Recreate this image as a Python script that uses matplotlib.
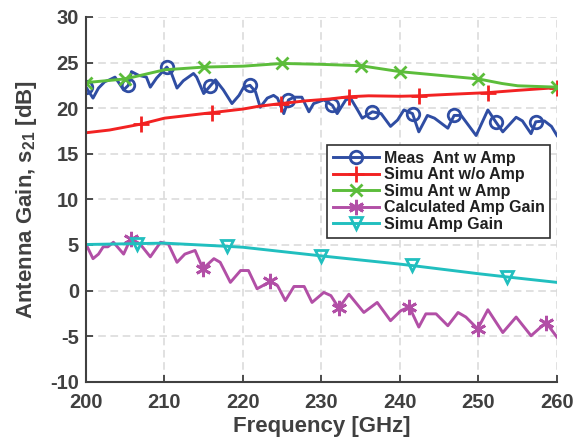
"""Antenna gain with / without amplifier vs frequency (MATLAB-style figure)."""

import matplotlib
matplotlib.use("Agg")
import matplotlib.pyplot as plt
import numpy as np

plt.rcParams["font.family"] = ["Liberation Sans", "DejaVu Sans"]
plt.rcParams["font.weight"] = "bold"
plt.rcParams["mathtext.fontset"] = "custom"
plt.rcParams["mathtext.rm"] = "Liberation Sans:bold"
plt.rcParams["mathtext.default"] = "rm"
plt.rcParams["axes.unicode_minus"] = False  # plain hyphen like MATLAB

TXT = "#404040"

meas_f = [200.0, 200.9, 201.6, 202.4, 203.0, 203.7, 204.8, 205.4, 205.8, 206.7,
          207.7, 208.2, 209.0, 210.3, 210.9, 211.6, 212.4, 213.7, 214.1, 215.0,
          215.8, 216.5, 217.5, 218.6, 219.5, 220.1, 220.9, 221.6, 222.2, 223.1,
          223.9, 224.4, 225.2, 225.8, 226.5, 227.5, 228.4, 229.0, 230.3, 231.4,
          232.0, 233.1, 233.7, 234.6, 235.2, 236.5, 237.6, 238.8, 239.7, 240.5,
          241.6, 242.4, 243.5, 244.4, 246.1, 246.9, 247.8, 249.7, 251.2, 252.2,
          253.1, 254.8, 255.6, 256.7, 257.3, 258.4, 259.3, 260.0]
meas_v = [22.3, 21.1, 22.2, 22.9, 23.1, 23.4, 22.0, 22.5, 24.0, 23.6,
          23.4, 22.3, 23.3, 24.5, 23.8, 22.2, 23.0, 23.8, 23.4, 21.6,
          22.4, 23.1, 22.0, 20.5, 21.4, 22.3, 22.5, 21.8, 20.1, 21.1,
          21.4, 21.1, 19.4, 20.9, 21.2, 21.2, 19.6, 20.5, 20.9, 20.3,
          19.4, 20.9, 21.1, 19.8, 18.9, 19.6, 19.4, 18.0, 18.7, 19.8,
          19.4, 17.4, 19.2, 18.9, 17.8, 19.2, 19.2, 17.0, 19.8, 18.5,
          17.4, 19.0, 18.6, 17.2, 18.5, 18.6, 18.0, 17.0]
meas_mk = [200.0, 205.4, 210.3, 215.8, 220.9, 225.8, 231.4, 236.5, 241.6,
           246.9, 252.2, 257.3]

# --- simulated antenna without amplifier ---
wo_f = [200.0, 203.0, 207.0, 210.0, 213.0, 216.0, 220.0, 222.0, 224.8, 228.0,
        231.0, 233.5, 236.0, 240.0, 242.4, 246.0, 251.2, 255.0, 260.0]
wo_v = [17.3, 17.6, 18.25, 18.9, 19.2, 19.5, 19.9, 20.2, 20.5, 20.8,
        21.0, 21.25, 21.35, 21.3, 21.35, 21.5, 21.7, 21.95, 22.25]
wo_mk = [207.0, 216.0, 224.8, 233.5, 242.4, 251.2, 260.0]

# --- simulated antenna with amplifier ---
w_f = [200.0, 205.0, 207.5, 210.0, 215.0, 220.0, 225.0, 230.0, 235.0, 240.0,
       245.0, 250.0, 253.0, 255.0, 260.0]
w_v = [22.8, 23.2, 23.7, 24.2, 24.5, 24.6, 24.9, 24.8, 24.65, 24.0,
       23.6, 23.2, 22.7, 22.45, 22.3]
w_mk = [200.0, 205.0, 215.0, 225.0, 235.0, 240.0, 250.0, 260.0]

# --- calculated amplifier gain ---
calc_f = [200.0, 200.9, 201.6, 202.2, 202.8, 203.5, 204.8, 205.7, 206.9, 208.2,
          209.5, 210.5, 211.6, 212.6, 213.9, 214.9, 216.3, 217.1, 218.4, 219.7,
          220.7, 221.8, 223.5, 224.4, 225.4, 226.5, 227.8, 228.8, 230.3, 231.2,
          232.2, 233.5, 235.4, 237.1, 238.8, 240.1, 241.2, 242.4, 243.3, 244.6,
          246.1, 247.4, 248.4, 249.9, 251.2, 253.1, 254.8, 256.7, 258.6, 260.0]
calc_v = [5.1, 3.5, 4.0, 4.8, 4.8, 5.3, 4.0, 5.7, 5.1, 3.7,
          5.3, 5.1, 3.1, 4.0, 4.4, 2.4, 3.5, 3.1, 0.9, 2.2,
          2.2, 0.2, 1.0, 0.55, -1.1, 0.45, 0.45, -1.3, -0.2, -0.55,
          -1.9, -0.4, -2.4, -1.3, -3.3, -2.2, -1.8, -4.0, -2.55, -2.55,
          -3.85, -2.4, -2.9, -4.2, -2.1, -4.6, -2.9, -4.95, -3.5, -5.1]
calc_mk = [205.7, 214.9, 223.5, 232.2, 241.2, 249.9, 258.6]

# --- simulated amplifier gain ---
amp_f = [200.0, 206.5, 210.0, 218.0, 220.0, 230.0, 240.0, 241.5, 250.0, 253.6, 260.0]
amp_v = [5.05, 5.15, 5.2, 4.85, 4.75, 3.8, 2.9, 2.75, 1.85, 1.5, 0.9]
amp_mk = [206.5, 218.0, 230.0, 241.5, 253.6]


def marks(freqs, mk):
    """Indices of the samples that carry a marker."""
    freqs = np.asarray(freqs)
    return [int(np.argmin(np.abs(freqs - m))) for m in mk]


series = [
    (meas_f, meas_v, meas_mk, "Meas  Ant w Amp", "#2f4da3", "o", 9),
    (wo_f, wo_v, wo_mk, "Simu Ant w/o Amp", "#f22222", "+", 12),
    (w_f, w_v, w_mk, "Simu Ant w Amp", "#5cbd3b", "x", 9),
    (calc_f, calc_v, calc_mk, "Calculated Amp Gain", "#b24fa6", (6, 2, 0), 11),
    (amp_f, amp_v, amp_mk, "Simu Amp Gain", "#21bfbf", "v", 9),
]

fig = plt.figure(figsize=(5.73, 4.45), dpi=100)
ax = fig.add_axes([0.150, 0.142, 0.822, 0.820])

for f, v, mk, label, col, m, ms in series:
    ax.plot(f, v, color=col, lw=2.1, marker=m, markersize=ms,
            markerfacecolor="none", markeredgecolor=col, markeredgewidth=2.0,
            markevery=marks(f, mk), label=label)

ax.set_xlim(200, 260)
ax.set_ylim(-10, 30)
ax.set_xticks(np.arange(200, 261, 10))
ax.set_yticks(np.arange(-10, 31, 5))
ax.grid(True, color="#d9d9d9", ls=(0, (5, 3)), lw=1.1)
ax.set_axisbelow(True)
for s in ("top", "right"):
    ax.spines[s].set_visible(False)
for s in ("left", "bottom"):
    ax.spines[s].set_color(TXT)
    ax.spines[s].set_linewidth(1.5)
ax.tick_params(direction="in", length=5, width=1.3, colors=TXT, labelsize=14.5)
ax.tick_params(axis="x", pad=8)
ax.tick_params(axis="y", pad=5)
for t in ax.get_xticklabels() + ax.get_yticklabels():
    t.set_fontweight("bold")

ax.set_xlabel("Frequency [GHz]", fontsize=16, fontweight="bold", color=TXT, labelpad=3)
ax.set_ylabel("Antenna Gain, s$_{21}$ [dB]", fontsize=16, fontweight="bold",
              color=TXT, labelpad=8)

leg = ax.legend(loc="upper left", bbox_to_anchor=(0.512, 0.649), borderaxespad=0,
                fancybox=False, framealpha=1, edgecolor="#303030",
                prop={"size": 11.5, "weight": "bold"}, handlelength=2.9,
                labelspacing=0.1, borderpad=0.35, handletextpad=0.3)
leg.get_frame().set_linewidth(1.2)
for t in leg.get_texts():
    t.set_color("#202020")

fig.savefig("out.png", dpi=100)
